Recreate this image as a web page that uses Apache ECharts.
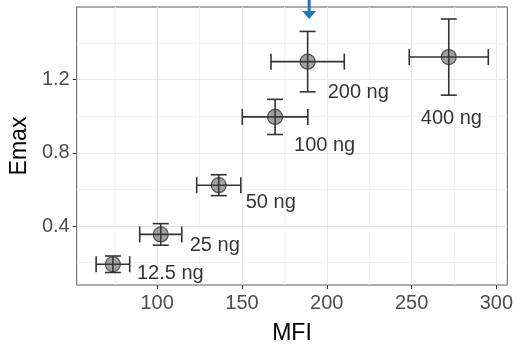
<!DOCTYPE html>
<html>
<head>
<meta charset="utf-8">
<script src="https://cdn.jsdelivr.net/npm/echarts@6/dist/echarts.min.js"></script>
<style>html,body{margin:0;padding:0;background:#fff}#c{width:516px;height:350px}</style>
</head>
<body>
<div id="c"></div>
<script>
// ---- data ----
var doseLabels = ['12.5 ng', '25 ng', '50 ng', '100 ng', '200 ng', '400 ng'];
var mfi        = [73.9, 102.1, 136.3, 169.5, 188.7, 271.9];
var mfiErr     = [9.9, 12.4, 13.0, 19.3, 21.6, 23.3];
var emax       = [0.191, 0.354, 0.623, 0.996, 1.298, 1.323];
var emaxErr    = [0.045, 0.059, 0.057, 0.096, 0.165, 0.208];
var xTicks     = [100, 150, 200, 250, 300];
var xMinorGrid = [75, 125, 175, 225, 275];
var yTicks     = [0.4, 0.8, 1.2];
var yMinorGrid = [0.2, 0.6, 1.0, 1.4];
var arrowIndex = 4; // arrow marks the 200 ng point

// ---- styling (pixel offsets for text labels) ----
var labelOffsets = [[24, 9], [29, 11], [27, 17], [19, 29], [20, 31], [-28, 61]];
var FONT = 'Liberation Sans, Arial, Helvetica, sans-serif';

var chart = echarts.init(document.getElementById('c'), null, {renderer: 'canvas'});

var gridLines = [];
xTicks.forEach(function (v) { gridLines.push({xAxis: v, lineStyle: {color: '#e6e6e6', width: 1, type: 'solid'}}); });
xMinorGrid.forEach(function (v) { gridLines.push({xAxis: v, lineStyle: {color: '#f2f2f2', width: 1, type: 'solid'}}); });
yTicks.forEach(function (v) { gridLines.push({yAxis: v, lineStyle: {color: '#e6e6e6', width: 1, type: 'solid'}}); });
yMinorGrid.forEach(function (v) { gridLines.push({yAxis: v, lineStyle: {color: '#f2f2f2', width: 1, type: 'solid'}}); });

var errData = mfi.map(function (x, i) { return [x, emax[i], mfiErr[i], emaxErr[i]]; });
var ptData = mfi.map(function (x, i) {
  return {
    value: [x, emax[i]],
    label: {offset: labelOffsets[i]}
  };
});

chart.setOption({
  animation: false,
  grid: {left: 72, top: 7, right: 5.3, bottom: 63.3, show: true, borderColor: '#5a5a5a', borderWidth: 1, backgroundColor: '#fff'},
  xAxis: {
    type: 'value', min: 52.56, max: 306.4,
    name: 'MFI', nameLocation: 'middle', nameGap: 37,
    nameTextStyle: {fontSize: 23, color: '#000', fontFamily: FONT},
    axisLine: {show: false},
    axisTick: {show: true, length: 4, lineStyle: {color: '#333'}, customValues: xTicks},
    axisLabel: {color: '#4d4d4d', fontSize: 20, fontFamily: FONT, margin: 8, customValues: xTicks},
    splitLine: {show: false}
  },
  yAxis: {
    type: 'value', min: 0.0776, max: 1.5966,
    name: 'Emax', nameLocation: 'middle', nameGap: 44,
    nameTextStyle: {fontSize: 23, color: '#000', fontFamily: FONT},
    axisLine: {show: false},
    axisTick: {show: true, length: 4, lineStyle: {color: '#333'}, customValues: yTicks},
    axisLabel: {color: '#4d4d4d', fontSize: 20, fontFamily: FONT, margin: 7, customValues: yTicks,
      formatter: function (v) { return v.toFixed(1); }},
    splitLine: {show: false}
  },
  series: [
    {
      type: 'line', data: [], z: 0, zlevel: 0, silent: true,
      markLine: {silent: true, symbol: 'none', label: {show: false}, data: gridLines, animation: false}
    },
    {
      type: 'custom', z: 2, zlevel: 1, silent: true,
      data: errData,
      renderItem: function (params, api) {
        var x = api.value(0), y = api.value(1), ex = api.value(2), ey = api.value(3);
        var l = api.coord([x - ex, y]), r = api.coord([x + ex, y]);
        var t = api.coord([x, y + ey]), b = api.coord([x, y - ey]);
        var cap = 8;
        var st = {stroke: '#333', lineWidth: 1.6, fill: null};
        return {type: 'group', children: [
          {type: 'line', shape: {x1: l[0], y1: l[1], x2: r[0], y2: r[1]}, style: st},
          {type: 'line', shape: {x1: l[0], y1: l[1] - cap, x2: l[0], y2: l[1] + cap}, style: st},
          {type: 'line', shape: {x1: r[0], y1: r[1] - cap, x2: r[0], y2: r[1] + cap}, style: st},
          {type: 'line', shape: {x1: t[0], y1: t[1], x2: b[0], y2: b[1]}, style: st},
          {type: 'line', shape: {x1: t[0] - cap, y1: t[1], x2: t[0] + cap, y2: t[1]}, style: st},
          {type: 'line', shape: {x1: b[0] - cap, y1: b[1], x2: b[0] + cap, y2: b[1]}, style: st}
        ]};
      }
    },
    {
      type: 'scatter', z: 3, zlevel: 1, silent: true,
      symbol: 'circle', symbolSize: 15,
      itemStyle: {color: 'rgba(60,60,60,0.6)', borderColor: '#333', borderWidth: 1.2},
      data: ptData,
      label: {
        show: true, position: 'inside', align: 'left', verticalAlign: 'middle',
        color: '#000', fontSize: 20, fontFamily: FONT,
        formatter: function (p) { return doseLabels[p.dataIndex]; }
      }
    },
    {
      type: 'custom', z: 4, zlevel: 1, silent: true, clip: false,
      data: [[mfi[arrowIndex], 1.5966]],
      renderItem: function (params, api) {
        var p = api.coord([api.value(0), api.value(1)]);
        var cx = p[0] + 1.5, top = p[1];
        return {type: 'group', children: [
          {type: 'rect', shape: {x: cx - 1.5, y: top - 8, width: 3, height: 13}, style: {fill: '#1f74c4'}},
          {type: 'polygon', shape: {points: [[cx - 7, top + 4], [cx + 7, top + 4], [cx, top + 12]]}, style: {fill: '#1f74c4'}}
        ]};
      }
    }
  ]
});
</script>
</body>
</html>
